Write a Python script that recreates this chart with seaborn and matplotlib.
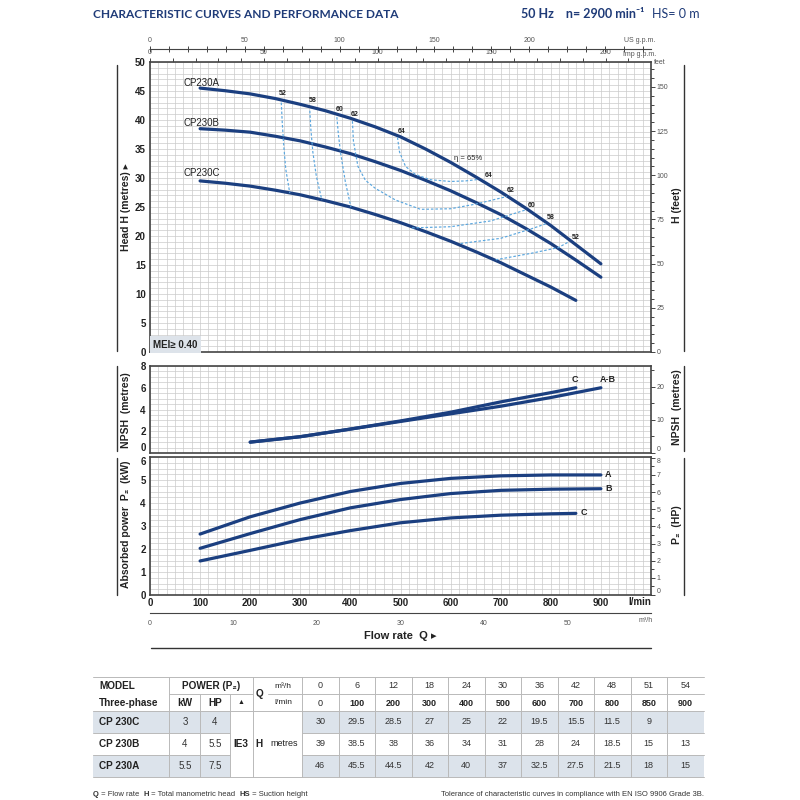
import matplotlib
matplotlib.use("Agg")
import matplotlib.pyplot as plt
from matplotlib.patches import Rectangle
from matplotlib.ticker import MultipleLocator, FixedLocator
import seaborn as sns

# table data
flow_lmin = [0, 100, 200, 300, 400, 500, 600, 700, 800, 850, 900]
flow_m3h = [0, 6, 12, 18, 24, 30, 36, 42, 48, 51, 54]
head_c = [30, 29.5, 28.5, 27, 25, 22, 19.5, 15.5, 11.5, 9, None]
head_b = [39, 38.5, 38, 36, 34, 31, 28, 24, 18.5, 15, 13]
head_a = [46, 45.5, 44.5, 42, 40, 37, 32.5, 27.5, 21.5, 18, 15]

models = ["CP 230C", "CP 230B", "CP 230A"]
power_kw = ["3", "4", "5.5"]
power_hp = ["4", "5.5", "7.5"]

# head curves as drawn on the chart (l/min, m)
curve_q = [100, 150, 200, 250, 300, 350, 400, 450, 500, 550, 600, 650, 700, 750, 800, 850, 900]
curve_a = [45.5, 45.05, 44.5, 43.7, 42.7, 41.6, 40.3, 38.8, 37.1, 35.0, 32.7, 30.2, 27.6, 24.8, 21.8, 18.5, 15.2]
curve_b = [38.5, 38.25, 37.9, 37.2, 36.4, 35.35, 34.2, 32.8, 31.3, 29.6, 27.8, 25.8, 23.7, 21.3, 18.7, 15.85, 12.9]
curve_c = [29.5, 29.1, 28.6, 27.9, 27.1, 26.1, 25.0, 23.7, 22.3, 20.75, 19.1, 17.3, 15.4, 13.3, 11.2, 8.9]

# NPSH curves
npsh_q_ab = [200, 300, 400, 500, 600, 700, 800, 900]
npsh_ab = [1.0, 1.5, 2.2, 2.9, 3.6, 4.3, 5.1, 6.0]
npsh_q_c = [200, 300, 400, 500, 600, 700, 800, 850]
npsh_c = [1.0, 1.5, 2.2, 2.95, 3.75, 4.7, 5.55, 6.0]

# absorbed power P2 (kW)
power_q = [100, 200, 300, 400, 500, 600, 700, 800, 900]
power_a = [2.65, 3.4, 4.0, 4.5, 4.85, 5.07, 5.18, 5.22, 5.22]
power_b = [2.03, 2.67, 3.28, 3.79, 4.15, 4.41, 4.55, 4.6, 4.62]
power_q_c = [100, 200, 300, 400, 500, 600, 700, 800, 850]
power_c = [1.48, 1.94, 2.41, 2.8, 3.14, 3.35, 3.47, 3.53, 3.55]

# iso-efficiency lines (only the visible bits between A and C)
eff52_q_l = [262, 264, 267, 271, 279]
eff52_h_l = [43.0, 39.5, 35.5, 31.5, 27.4]
eff52_q_r = [690, 760, 815, 836]
eff52_h_r = [15.9, 17.0, 18.0, 19.0]
eff58_q_l = [319, 321, 325, 332, 343]
eff58_h_l = [41.6, 38.5, 34.5, 30.3, 26.2]
eff58_q_r = [620, 700, 760, 790]
eff58_h_r = [18.7, 19.6, 21.2, 22.1]
eff60_q_l = [373, 376, 381, 390, 401]
eff60_h_l = [40.5, 37.5, 34.0, 29.3, 25.0]
eff60_q_r = [523, 600, 680, 750]
eff60_h_r = [21.4, 21.6, 22.6, 24.5]
eff62_q = [404, 406, 415, 430, 450, 490, 540, 600, 650, 712]
eff62_h = [39.8, 36.4, 32.0, 29.6, 28.2, 26.2, 24.6, 24.7, 25.5, 26.8]
eff64_q = [494, 498, 510, 530, 560, 600, 630, 655]
eff64_h = [37.0, 34.5, 32.0, 30.6, 29.7, 29.4, 29.5, 29.75]

sns.set_theme(style="white")
plt.rcParams['font.family'] = ['Liberation Sans', 'DejaVu Sans']

navy = "#1b3f80"
dash_blue = "#5aa6de"
blue_txt = "#1f3b78"
ink = "#222222"

fig = plt.figure(figsize=(8, 8), dpi=100)


def box(l, t, r, b):
    return [l / 800, 1 - b / 800, (r - l) / 800, (b - t) / 800]


ax_h = fig.add_axes(box(150, 62, 651, 352))
ax_n = fig.add_axes(box(150, 366, 651, 453))
ax_p = fig.add_axes(box(150, 457, 651, 595))


def setup_panel(ax, ymax, ymajor, ygrid):
    ax.set_xlim(0, 1000)
    ax.set_ylim(0, ymax)
    ax.set_xticks(range(0, 1001, 100))
    ax.xaxis.set_minor_locator(MultipleLocator(1000 / 60))
    yt = [v * ymajor for v in range(int(round(ymax / ymajor)) + 1)]
    ax.set_yticks(yt, labels=[f"{v:g}" for v in yt], fontweight='bold')
    ax.yaxis.set_minor_locator(MultipleLocator(ygrid))
    ax.grid(which='both', color='#cbcbcb', lw=0.5)
    ax.set_axisbelow(True)
    ax.tick_params(which='both', length=0)
    ax.tick_params(axis='y', labelsize=7, pad=3, labelcolor=ink)
    ax.tick_params(axis='x', labelbottom=False)
    for s in ax.spines.values():
        s.set_color('#444444')
        s.set_linewidth(1.2)


def right_axis(ax, ymax, major, minor):
    tw = ax.twinx()
    tw.set_ylim(0, ymax)
    ticks = [major * i for i in range(int(ymax // major) + 1)]
    tw.yaxis.set_major_locator(FixedLocator(ticks))
    tw.yaxis.set_minor_locator(MultipleLocator(minor))
    tw.tick_params(which='major', length=3, width=0.6, labelsize=5, labelcolor='#555555', pad=1)
    tw.tick_params(which='minor', length=2, width=0.6)
    tw.grid(False)
    for s in tw.spines.values():
        s.set_visible(False)
    return tw


setup_panel(ax_h, 50, 5, 1)
setup_panel(ax_n, 8, 2, 0.5)
setup_panel(ax_p, 6, 1, 0.25)
ax_p.set_xticks(range(0, 1001, 100),
                labels=[str(v) for v in range(0, 1000, 100)] + [''],
                fontweight='bold')
ax_p.tick_params(axis='x', labelbottom=True, labelsize=7, pad=2, labelcolor=ink)

tw_h = right_axis(ax_h, 50 * 3.28084, 25, 5)
tw_n = right_axis(ax_n, 8 * 3.28084, 10, 5)
tw_p = right_axis(ax_p, 6 * 1.34102, 1, 0.5)

# keep the touching 0 / top labels of neighbouring panels apart
ax_n.yaxis.get_major_ticks()[0].label1.set_va('bottom')
ax_p.yaxis.get_major_ticks()[-1].label1.set_va('top')
tw_n.yaxis.get_major_ticks()[0].label2.set_va('bottom')
tw_p.yaxis.get_major_ticks()[-1].label2.set_va('top')
tw_p.yaxis.get_major_ticks()[0].label2.set_va('bottom')

# head curves
line_kw = dict(color=navy, lw=2.3, sort=False, estimator=None)
sns.lineplot(x=curve_q, y=curve_a, ax=ax_h, **line_kw)
sns.lineplot(x=curve_q, y=curve_b, ax=ax_h, **line_kw)
sns.lineplot(x=curve_q[:len(curve_c)], y=curve_c, ax=ax_h, **line_kw)

dash_kw = dict(color=dash_blue, lw=0.85, linestyle=(0, (2.2, 1.6)), sort=False, estimator=None)
for qs, hs in [(eff52_q_l, eff52_h_l), (eff52_q_r, eff52_h_r),
               (eff58_q_l, eff58_h_l), (eff58_q_r, eff58_h_r),
               (eff60_q_l, eff60_h_l), (eff60_q_r, eff60_h_r),
               (eff62_q, eff62_h), (eff64_q, eff64_h)]:
    sns.lineplot(x=qs, y=hs, ax=ax_h, **dash_kw)

eff_lab = dict(fontsize=5, fontweight='bold', color=ink, ha='center', va='center')
for txt, q, h in [("52", 265, 44.6), ("58", 325, 43.3), ("60", 378, 41.8),
                  ("62", 408, 40.9), ("64", 502, 38.0), ("64", 675, 30.4),
                  ("62", 720, 27.9), ("60", 762, 25.3), ("58", 800, 23.2),
                  ("52", 850, 19.8)]:
    ax_h.text(q, h, txt, **eff_lab)
ax_h.text(607, 33.3, "η = 65%", fontsize=5.5, color=ink, ha='left', va='center')

for name, h in [("CP230A", 46.3), ("CP230B", 39.4), ("CP230C", 30.8)]:
    ax_h.text(66, h, name, fontsize=7, color=ink, ha='left', va='center')

ax_h.text(0.006, 0.008, "MEI≥ 0.40", transform=ax_h.transAxes, fontsize=7,
          fontweight='bold', color=ink, ha='left', va='bottom',
          bbox=dict(boxstyle='square,pad=0.35', fc='#dde3ea', ec='none'))

# NPSH
sns.lineplot(x=npsh_q_ab, y=npsh_ab, ax=ax_n, **line_kw)
sns.lineplot(x=npsh_q_c, y=npsh_c, ax=ax_n, **line_kw)
ax_n.text(848, 6.8, "C", fontsize=6.5, fontweight='bold', color=ink, ha='center', va='center')
ax_n.text(913, 6.8, "A-B", fontsize=6.5, fontweight='bold', color=ink, ha='center', va='center')

# power
sns.lineplot(x=power_q, y=power_a, ax=ax_p, **line_kw)
sns.lineplot(x=power_q, y=power_b, ax=ax_p, **line_kw)
sns.lineplot(x=power_q_c, y=power_c, ax=ax_p, **line_kw)
for txt, q, p in [("A", 908, 5.22), ("B", 908, 4.62), ("C", 860, 3.57)]:
    ax_p.text(q, p, txt, fontsize=6.5, fontweight='bold', color=ink, ha='left', va='center')

for ax, ym in [(ax_h, 50), (ax_n, 8), (ax_p, 6)]:
    ax.set_xlim(0, 1000)
    ax.set_ylim(0, ym)
    ax.set_xlabel('')
    ax.set_ylabel('')

# imperial gpm on top of the head chart
sec = ax_h.secondary_xaxis('top', functions=(lambda q: q / 4.54609, lambda g: g * 4.54609))
sec.xaxis.set_major_locator(FixedLocator([0, 50, 100, 150, 200]))
sec.xaxis.set_minor_locator(MultipleLocator(10))
sec.tick_params(which='both', length=3, width=0.6, labelsize=5, labelcolor='#555555', pad=1)
sec.spines['top'].set_visible(False)

# US gpm scale
ax_us = fig.add_axes(box(150, 48.5, 651, 49))
ax_us.set_xlim(0, 1000 / 3.78541)
ax_us.set_yticks([])
ax_us.set_facecolor('none')
for k, s in ax_us.spines.items():
    s.set_visible(k == 'top')
    s.set_color('#444444')
    s.set_linewidth(0.8)
ax_us.xaxis.tick_top()
ax_us.xaxis.set_major_locator(FixedLocator([0, 50, 100, 150, 200]))
ax_us.xaxis.set_minor_locator(MultipleLocator(10))
ax_us.tick_params(axis='x', which='both', direction='inout', length=5, width=0.6,
                  labelsize=5, labelcolor='#555555', pad=1)

# m3/h scale under the power chart
ax_m = fig.add_axes(box(150, 612.5, 651, 613))
ax_m.set_xlim(0, 60)
ax_m.set_yticks([])
ax_m.set_facecolor('none')
for k, s in ax_m.spines.items():
    s.set_visible(k == 'bottom')
    s.set_color('#444444')
    s.set_linewidth(0.8)
ax_m.xaxis.set_major_locator(FixedLocator([0, 10, 20, 30, 40, 50]))
ax_m.xaxis.set_minor_locator(MultipleLocator(2))
ax_m.tick_params(axis='x', which='both', direction='out', length=3, width=0.6,
                 labelsize=5, labelcolor='#555555', pad=2)

# overlay in pixel coordinates for texts, brackets and table
ov = fig.add_axes([0, 0, 1, 1])
ov.set_xlim(0, 800)
ov.set_ylim(800, 0)
ov.axis('off')

ov.text(93, 14, "CHARACTERISTIC CURVES AND PERFORMANCE DATA", family=['Lato', 'DejaVu Sans'],
        fontsize=8.6, fontweight='bold', color=blue_txt, ha='left', va='center')
hs = ov.text(700, 14, "HS= 0 m", family=['Lato', 'DejaVu Sans'], fontsize=9,
             color=blue_txt, ha='right', va='center')
ov.annotate("50 Hz    n= 2900 min⁻¹", xy=(0, 0.5), xycoords=hs, xytext=(-6, 0),
            textcoords='offset points', family=['Lato', 'DejaVu Sans'], fontsize=9,
            fontweight='bold', color=blue_txt, ha='right', va='center')

small = dict(fontsize=5, color='#555555', ha='center', va='center')
ov.text(640, 41, "US g.p.m.", **small)
ov.text(640, 54, "Imp g.p.m.", **small)
ov.text(660, 63, "feet", **small)
ov.text(646, 621, "m³/h", **small)
ov.text(640, 602, "l/min", fontsize=7, fontweight='bold', color=ink, ha='center', va='center')

lab = dict(fontsize=7.5, fontweight='bold', color=ink, ha='center', va='center', rotation=90)
ov.text(126, 207, "Head H (metres) ▸", **lab)
ov.text(126, 410, "NPSH  (metres)", **lab)
ov.text(126, 524, "Absorbed power  P₂  (kW)", **lab)
ov.text(677, 205, "H (feet)", **lab)
ov.text(677, 407, "NPSH  (metres)", **lab)
ov.text(677, 525, "P₂  (HP)", **lab)

for x in (117, 684):
    for t, b in [(65, 351), (366, 451), (458, 595)]:
        ov.plot([x, x], [t, b], color='#333333', lw=1)

ov.text(400, 636, "Flow rate  Q ▸", fontsize=8, fontweight='bold', color=ink,
        ha='center', va='center')
ov.plot([151, 651], [648, 648], color='#333333', lw=1)

# performance table
band = "#dce3eb"
grid_c = "#b9b9b9"
col_edges = [302 + 36.5 * i for i in range(12)]
row_edges = [711, 733, 755, 777]
for r in (0, 2):
    ov.add_patch(Rectangle((93, row_edges[r]), 137, 22, fc=band, ec='none'))
    ov.add_patch(Rectangle((302, row_edges[r]), 402, 22, fc=band, ec='none'))

hl = dict(color=grid_c, lw=0.7)
ov.plot([93, 704], [677, 677], **hl)
ov.plot([169, 253], [694, 694], **hl)
ov.plot([268, 704], [694, 694], **hl)
ov.plot([93, 704], [711, 711], **hl)
for y in (733, 755):
    ov.plot([93, 230], [y, y], **hl)
    ov.plot([302, 704], [y, y], **hl)
ov.plot([93, 704], [777, 777], **hl)
for x in [169, 253, 302] + col_edges[1:-1]:
    ov.plot([x, x], [677, 777], **hl)
for x in (200, 230):
    ov.plot([x, x], [694, 777], **hl)

tk = dict(fontsize=7.2, color=ink, va='center')
ov.text(99, 686, "MODEL", fontweight='bold', ha='left', **tk)
ov.text(99, 703, "Three-phase", fontweight='bold', ha='left', **tk)
ov.text(211, 686, "POWER (P₂)", fontweight='bold', ha='center', **tk)
ov.text(185, 703, "kW", fontweight='bold', ha='center', **tk)
ov.text(215, 703, "HP", fontweight='bold', ha='center', **tk)
ov.text(241, 703, "▲", fontsize=5, color=ink, ha='center', va='center')
ov.text(259, 694, "Q", fontweight='bold', ha='center', **tk)
ov.text(283, 686, "m³/h", fontsize=6, color=ink, ha='center', va='center')
ov.text(283, 703, "l/min", fontsize=6, color=ink, ha='center', va='center')
ov.text(241, 744, "IE3", fontweight='bold', ha='center', **tk)
ov.text(259, 744, "H", fontweight='bold', ha='center', **tk)
ov.text(284, 744, "metres", fontsize=6.5, color=ink, ha='center', va='center')

for i, (m3, lm) in enumerate(zip(flow_m3h, flow_lmin)):
    xc = col_edges[i] + 18.25
    ov.text(xc, 686, str(m3), fontsize=6.5, color='#333333', ha='center', va='center')
    ov.text(xc, 703, str(lm), fontsize=6.5, color=ink, ha='center', va='center',
            fontweight='normal' if lm == 0 else 'bold')

for r, (name, k, h, heads) in enumerate(zip(models, power_kw, power_hp, [head_c, head_b, head_a])):
    yc = (row_edges[r] + row_edges[r + 1]) / 2
    ov.text(99, yc, name, fontweight='bold', ha='left', **tk)
    ov.text(185, yc, k, fontsize=7, color='#333333', ha='center', va='center')
    ov.text(215, yc, h, fontsize=7, color='#333333', ha='center', va='center')
    for i, v in enumerate(heads):
        if v is not None:
            ov.text(col_edges[i] + 18.25, yc, f"{v:g}", fontsize=6.5, color='#333333',
                    ha='center', va='center')

# footer
prev = ov.text(93, 794, "Q", fontsize=5.5, fontweight='bold', color='#333333', ha='left', va='center')
for txt, bold in [(" = Flow rate  ", False), ("H", True), (" = Total manometric head  ", False),
                  ("HS", True), (" = Suction height", False)]:
    prev = ov.annotate(txt, xy=(1, 0.5), xycoords=prev, fontsize=5.5, color='#333333',
                       fontweight='bold' if bold else 'normal', ha='left', va='center')
ov.text(704, 794, "Tolerance of characteristic curves in compliance with EN ISO 9906 Grade 3B.",
        fontsize=5.5, color='#333333', ha='right', va='center')

fig.savefig("out.png", dpi=100)
